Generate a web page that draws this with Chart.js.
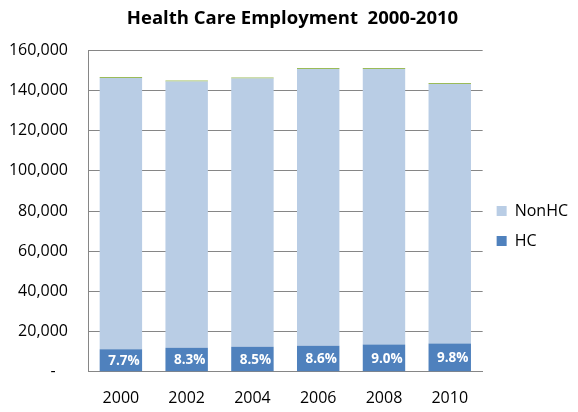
<!DOCTYPE html>
<html>
<head>
<meta charset="utf-8">
<script src="https://cdn.jsdelivr.net/npm/chart.js@4"></script>
<style>
  html, body { margin: 0; padding: 0; background: #fff; }
  #wrap { width: 578px; height: 412px; }
</style>
</head>
<body>
<div id="wrap"><canvas id="hcChart" width="578" height="412"></canvas></div>
<script>
// values (thousands of workers)
const years = ['2000', '2002', '2004', '2006', '2008', '2010'];
const hcValues = [11280, 12010, 12410, 12990, 13590, 14050];
const nonHcValues = [134900, 132400, 133500, 137700, 137100, 129100];
const topValues = [500, 500, 500, 500, 500, 500];
const hcShareLabels = ['7.7%', '8.3%', '8.5%', '8.6%', '9.0%', '9.8%'];
const yTicks = [0, 20000, 40000, 60000, 80000, 100000, 120000, 140000, 160000];

const fontFamily = '"Open Sans", Lato, sans-serif';

// writes the HC share inside each dark bar
const shareLabels = {
  id: 'shareLabels',
  afterDatasetsDraw(chart) {
    const ctx = chart.ctx;
    const meta = chart.getDatasetMeta(0);
    ctx.save();
    ctx.fillStyle = '#ffffff';
    ctx.font = 'bold 13.5px ' + fontFamily;
    ctx.textAlign = 'center';
    ctx.textBaseline = 'middle';
    meta.data.forEach((bar, i) => {
      ctx.fillText(hcShareLabels[i], bar.x + 3, (bar.y + bar.base) / 2 + 1);
    });
    ctx.restore();
  }
};

const ctx = document.getElementById('hcChart').getContext('2d');
new Chart(ctx, {
  type: 'bar',
  data: {
    labels: years,
    datasets: [
      { label: 'HC', data: hcValues, backgroundColor: '#4F81BD' },
      { label: 'NonHC', data: nonHcValues, backgroundColor: '#B9CDE5' },
      { label: 'Other', data: topValues, backgroundColor: '#9BBB59' }
    ]
  },
  options: {
    responsive: false,
    animation: false,
    devicePixelRatio: 1,
    layout: { padding: { left: 7, right: 0, top: 4, bottom: -13 } },
    datasets: {
      bar: { categoryPercentage: 1, barPercentage: 0.645, borderWidth: 0 }
    },
    plugins: {
      title: {
        display: true,
        text: 'Health Care Employment  2000-2010',
        color: '#000',
        font: { family: fontFamily, size: 18.5, weight: 'bold' },
        padding: { top: 4, bottom: 20 }
      },
      legend: {
        position: 'right',
        reverse: true,
        title: { display: true, text: ' ', font: { size: 10 }, padding: { top: 0, bottom: 11 } },
        labels: {
          color: '#000',
          boxWidth: 10,
          boxHeight: 10,
          padding: 14,
          font: { family: fontFamily, size: 16 },
          filter: item => item.text !== 'Other'
        }
      },
      tooltip: { enabled: false }
    },
    scales: {
      x: {
        stacked: true,
        grid: { display: false, drawTicks: false },
        border: { color: '#868686' },
        ticks: { color: '#000', padding: 17, font: { family: fontFamily, size: 16 } }
      },
      y: {
        stacked: true,
        min: 0,
        max: 160000,
        afterBuildTicks: axis => { axis.ticks = yTicks.map(v => ({ value: v })); },
        afterFit: axis => { axis.width = 81; },
        grid: { color: '#868686', drawTicks: false },
        border: { color: '#868686' },
        ticks: {
          color: '#000',
          padding: 20,
          font: { family: fontFamily, size: 16 },
          callback: v => v === 0 ? '-   ' : v.toLocaleString('en-US')
        }
      }
    }
  },
  plugins: [shareLabels]
});
</script>
</body>
</html>
